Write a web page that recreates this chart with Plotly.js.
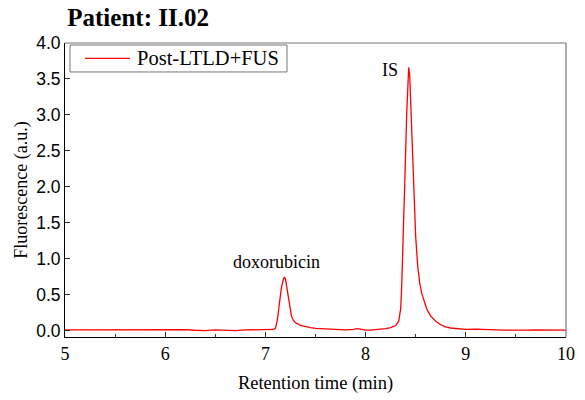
<!DOCTYPE html>
<html>
<head>
<meta charset="utf-8">
<script src="https://cdn.plot.ly/plotly-3.0.1.min.js"></script>
<style>html,body{margin:0;padding:0;background:#fff;}#chart{width:585px;height:400px;}</style>
</head>
<body>
<div id="chart"></div>
<script>
// Retention time (min)
const retentionTime = [5.0,5.1,5.2,5.3,5.4,5.5,5.6,5.7,5.8,5.9,6.0,6.1,6.2,6.3,6.4,6.5,6.6,6.7,6.8,6.9,7.0,7.05,7.08,7.10,7.12,7.14,7.16,7.18,7.19,7.20,7.22,7.24,7.26,7.28,7.30,7.35,7.40,7.45,7.50,7.60,7.70,7.80,7.88,7.92,7.96,8.00,8.05,8.10,8.15,8.20,8.25,8.30,8.33,8.35,8.36,8.37,8.38,8.39,8.40,8.41,8.42,8.43,8.44,8.45,8.46,8.47,8.48,8.49,8.50,8.52,8.54,8.56,8.58,8.61,8.65,8.70,8.75,8.80,8.85,8.90,9.0,9.1,9.2,9.3,9.4,9.5,9.6,9.7,9.8,9.9,10.0];
// Fluorescence (a.u.)
const fluorescence = [0.010,0.010,0.005,0.010,0.015,0.010,0.008,0.012,0.005,0.008,0.010,0.006,0.012,0.004,0.000,0.008,0.004,0.000,0.008,0.010,0.012,0.012,0.015,0.030,0.150,0.380,0.600,0.720,0.740,0.720,0.550,0.330,0.200,0.140,0.110,0.070,0.050,0.040,0.030,0.020,0.015,0.010,0.015,0.025,0.015,0.005,0.005,0.010,0.015,0.025,0.040,0.070,0.130,0.300,0.600,1.000,1.500,2.000,2.500,3.000,3.450,3.660,3.550,3.200,2.800,2.400,2.000,1.600,1.300,0.900,0.660,0.520,0.420,0.300,0.200,0.130,0.080,0.050,0.035,0.025,0.015,0.020,0.020,0.010,0.005,0.010,0.005,0.008,0.005,0.010,0.005];
const seriesName = 'Post-LTLD+FUS';
const chartTitle = 'Patient: II.02';
const xTitle = 'Retention time (min)';
const yTitle = 'Fluorescence (a.u.)';
const peakLabels = ['doxorubicin', 'IS'];
const peakLabelX = [7.115, 8.24];
const peakLabelY = [0.96, 3.62];

const serif = '"Liberation Serif", "Times New Roman", serif';
const sans = '"Liberation Sans", Arial, sans-serif';
const lineColor = '#ff0000';

const trace = {
  x: retentionTime, y: fluorescence, type: 'scatter', mode: 'lines',
  name: seriesName, line: {color: lineColor, width: 1.3}, showlegend: false
};

const layout = {
  width: 585, height: 400,
  margin: {l: 65, r: 19, t: 43, b: 62.5, pad: 0},
  paper_bgcolor: '#fff', plot_bgcolor: '#fff',
  title: {text: '<b>' + chartTitle + '</b>', font: {family: serif, size: 25, color: '#000'},
          x: 0.115, xref: 'container', xanchor: 'left', y: 0.958, yref: 'container', yanchor: 'middle'},
  showlegend: false,
  xaxis: {
    range: [5, 10], dtick: 1, tick0: 5, ticks: 'inside', ticklen: 5, tickcolor: '#333', tickwidth: 1,
    minor: {dtick: 0.5, ticks: 'inside', ticklen: 3, tickcolor: '#333'},
    showline: true, linecolor: '#000', linewidth: 1, showgrid: false, zeroline: false,
    tickfont: {family: serif, size: 18, color: '#000'},
    title: {text: xTitle, font: {family: serif, size: 18.5, color: '#000'}, standoff: 13}
  },
  yaxis: {
    range: [-0.09, 4.0], dtick: 0.5, tick0: 0, tickformat: '.1f', ticks: 'inside', ticklen: 5,
    tickcolor: '#333', tickwidth: 1,
    showline: true, linecolor: '#000', linewidth: 1, showgrid: false, zeroline: false,
    tickfont: {family: sans, size: 17.5, color: '#000'},
    title: {text: yTitle, font: {family: serif, size: 18, color: '#000'}, standoff: 3}
  },
  shapes: [
    {type: 'line', xref: 'paper', yref: 'paper', x0: 0, x1: 1, y0: 1, y1: 1, line: {color: '#777', width: 1.2}},
    {type: 'line', xref: 'paper', yref: 'paper', x0: 1, x1: 1, y0: 0, y1: 1, line: {color: '#777', width: 1.2}},
    // legend box and sample line
    {type: 'rect', xref: 'paper', yref: 'paper', x0: 0.00998, x1: 0.4431, y0: 0.9015, y1: 0.9932,
     line: {color: '#777', width: 1}, fillcolor: '#fff'},
    {type: 'line', xref: 'paper', yref: 'paper', x0: 0.0399, x1: 0.1297, y0: 0.9474, y1: 0.9474,
     line: {color: lineColor, width: 1.3}}
  ],
  annotations: peakLabels.map((t, i) => ({
    text: t, x: peakLabelX[i], y: peakLabelY[i], xref: 'x', yref: 'y', showarrow: false,
    font: {family: serif, size: 18, color: '#000'}
  })).concat([{
    text: seriesName, xref: 'paper', yref: 'paper', x: 0.1397, y: 0.9474, xanchor: 'left', yanchor: 'middle',
    showarrow: false, font: {family: serif, size: 20.5, color: '#000'}
  }])
};

Plotly.newPlot('chart', [trace], layout, {displayModeBar: false, staticPlot: true});
</script>
</body>
</html>
